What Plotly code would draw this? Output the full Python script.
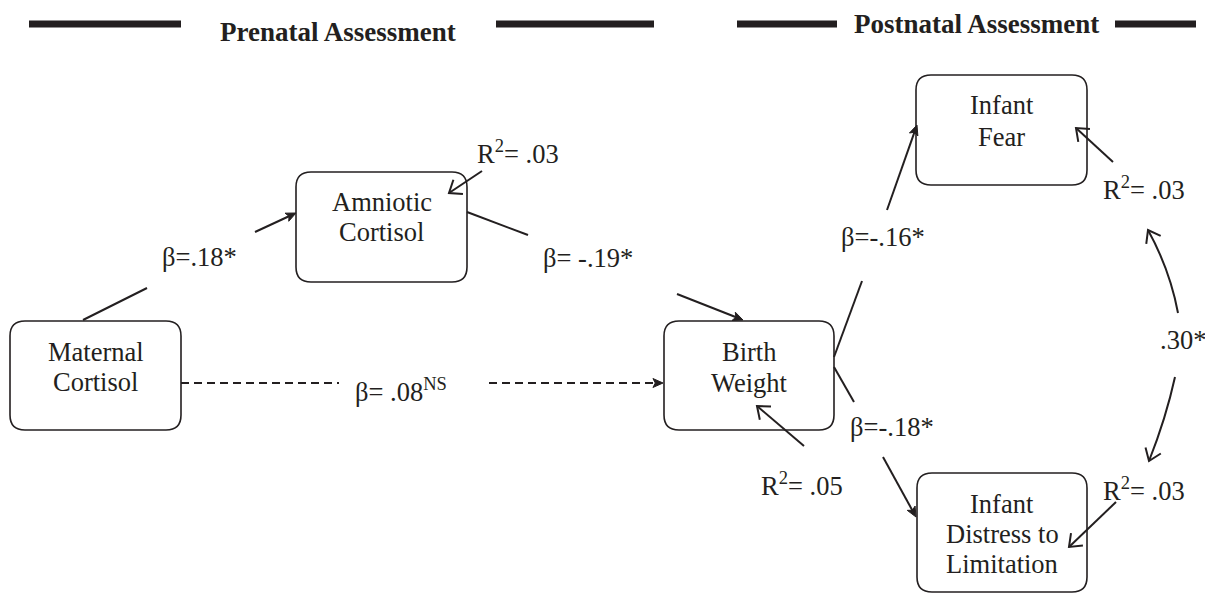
import numpy as np
import plotly.graph_objects as go

# ---------------- data ----------------
section_titles = ["Prenatal Assessment", "Postnatal Assessment"]
node_lines = [["Maternal", "Cortisol"],
              ["Amniotic", "Cortisol"],
              ["Birth", "Weight"],
              ["Infant", "Fear"],
              ["Infant", "Distress to", "Limitation"]]
path_beta = [".18*", " -.19*", " .08", "-.16*", "-.18*"]
path_sup = ["", "", "NS", "", ""]
r2_values = [".03", ".05", ".03", ".03"]
corr_value = ".30*"

# ---------------- layout (pixel positions) ----------------
W, H = 1205, 594
INK = "#231f20"
FONT = "Liberation Serif, Times New Roman, serif"
FS = 26.5

box_x0 = [10, 296, 664, 916, 917]
box_x1 = [181, 467, 834, 1087, 1087]
box_y0 = [321, 172, 321, 75, 473]
box_y1 = [430, 282, 430, 185, 592]
line_y = [[352, 382], [202, 232], [352, 383], [105, 137], [504, 534, 564]]

path_seg1 = [((83, 320), (147, 288)), ((467, 212), (528, 235)), ((181, 383), (339, 383)),
             ((834, 357), (862, 281)), ((834, 367), (854, 402))]
path_seg2 = [((255, 232), (296, 213)), ((677, 294), (743, 320)), ((489, 383), (663, 383)),
             ((887, 210), (917, 125)), ((883, 457), (916, 517))]
path_dashed = [False, False, True, False, False]
path_label_xy = [(199, 257), (588, 258), (401, 390), (883, 237), (892, 427)]

r2_arrow = [((482, 171), (449, 193)), ((804, 446), (757, 406)),
            ((1113, 162), (1076, 128)), ((1116, 502), (1069, 547))]
r2_label_xy = [(518, 152), (802, 484), (1144, 188), (1144, 489)]

corr_curves = [((1178, 313), (1170, 270), (1148, 230)),
               ((1175, 377), (1166, 418), (1149, 461))]
corr_label_xy = (1158, 340)

bar_segments = [(29, 181), (496, 654), (737, 837), (1115, 1196)]
bar_y = 24
title_xy = [(338, 32), (976, 24)]

# ---------------- helpers ----------------
shapes = []
annotations = []


def rbox(x0, y0, x1, y1, r=15):
    return (f"M{x0+r},{y0} L{x1-r},{y0} Q{x1},{y0} {x1},{y0+r} L{x1},{y1-r} "
            f"Q{x1},{y1} {x1-r},{y1} L{x0+r},{y1} Q{x0},{y1} {x0},{y1-r} "
            f"L{x0},{y0+r} Q{x0},{y0} {x0+r},{y0} Z")


def head(tip, frm, length, half_deg, filled):
    tip = np.array(tip, float)
    frm = np.array(frm, float)
    u = (tip - frm) / np.linalg.norm(tip - frm)
    a = np.radians(half_deg)
    rot = lambda v, t: np.array([v[0]*np.cos(t) - v[1]*np.sin(t), v[0]*np.sin(t) + v[1]*np.cos(t)])
    left = tip - length * rot(u, a)
    right = tip - length * rot(u, -a)
    if filled:
        back = tip - 0.7 * length * u
        p = (f"M{left[0]:.2f},{left[1]:.2f} L{tip[0]:.2f},{tip[1]:.2f} "
             f"L{right[0]:.2f},{right[1]:.2f} L{back[0]:.2f},{back[1]:.2f} Z")
        shapes.append(dict(type="path", path=p, fillcolor=INK,
                           line=dict(color=INK, width=1), xref="x", yref="y"))
    else:
        p = (f"M{left[0]:.2f},{left[1]:.2f} L{tip[0]:.2f},{tip[1]:.2f} "
             f"L{right[0]:.2f},{right[1]:.2f}")
        shapes.append(dict(type="path", path=p,
                           line=dict(color=INK, width=2), xref="x", yref="y"))


def seg(p0, p1, width=2, dash="solid"):
    shapes.append(dict(type="line", x0=p0[0], y0=p0[1], x1=p1[0], y1=p1[1],
                       xref="x", yref="y", line=dict(color=INK, width=width, dash=dash)))


def text(x, y, s, size=FS, bold=False, anchor="center"):
    if bold:
        s = f"<b>{s}</b>"
    annotations.append(dict(x=x, y=y, xref="x", yref="y", text=s, showarrow=False,
                            xanchor=anchor, yanchor="middle",
                            font=dict(family=FONT, size=size, color=INK)))


# ---------------- header ----------------
for (xa, xb) in bar_segments:
    seg((xa, bar_y), (xb, bar_y), width=7)
for (tx, ty), t in zip(title_xy, section_titles):
    text(tx, ty, t, size=27, bold=True)

# ---------------- boxes ----------------
for i, lines in enumerate(node_lines):
    shapes.append(dict(type="path", path=rbox(box_x0[i], box_y0[i], box_x1[i], box_y1[i]),
                       line=dict(color=INK, width=1.6), xref="x", yref="y"))
    cx = (box_x0[i] + box_x1[i]) / 2
    for ly, s in zip(line_y[i], lines):
        text(cx, ly, s)

# ---------------- paths ----------------
for i in range(len(path_beta)):
    dash = "8px,5px" if path_dashed[i] else "solid"
    seg(*path_seg1[i], dash=dash)
    (a, b) = path_seg2[i]
    b_arr = np.array(b, float)
    a_arr = np.array(a, float)
    u = (b_arr - a_arr) / np.linalg.norm(b_arr - a_arr)
    stop = b_arr - 6 * u
    seg(a, tuple(stop), dash=dash)
    head(b, a, 11, 24, True)
    lbl = "β=" + path_beta[i]
    if path_sup[i]:
        lbl += f"<sup>{path_sup[i]}</sup>"
    text(path_label_xy[i][0], path_label_xy[i][1], lbl)

# ---------------- R squared ----------------
for (a, b), (lx, ly), v in zip(r2_arrow, r2_label_xy, r2_values):
    seg(a, b)
    head(b, a, 14, 38, False)
    text(lx, ly, f"R<sup>2</sup>= {v}")

# ---------------- correlation ----------------
for (p0, c, p1) in corr_curves:
    shapes.append(dict(type="path", path=f"M{p0[0]},{p0[1]} Q{c[0]},{c[1]} {p1[0]},{p1[1]}",
                       line=dict(color=INK, width=2), xref="x", yref="y"))
    head(p1, c, 14, 36, False)
text(corr_label_xy[0], corr_label_xy[1], corr_value, anchor="left")

fig = go.Figure()
fig.update_layout(
    width=W, height=H,
    margin=dict(l=0, r=0, t=0, b=0),
    paper_bgcolor="white", plot_bgcolor="white",
    xaxis=dict(range=[0, W], visible=False, fixedrange=True),
    yaxis=dict(range=[H, 0], visible=False, fixedrange=True),
    shapes=shapes, annotations=annotations, showlegend=False,
)
fig.write_html("out.html", config={"displayModeBar": False},
               post_script="document.body.style.margin='0px';document.body.style.overflow='hidden';")
